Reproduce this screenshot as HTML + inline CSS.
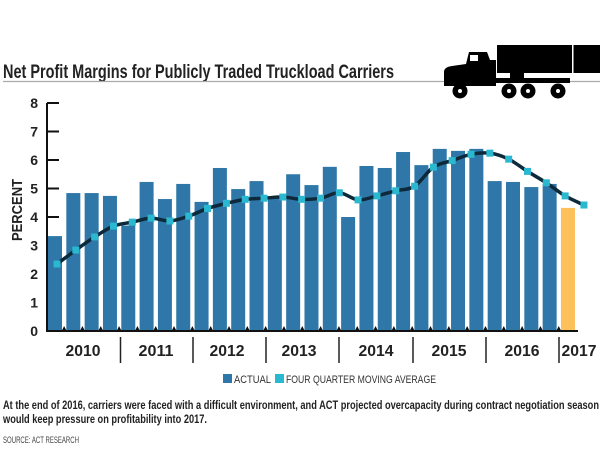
<!DOCTYPE html>
<html><head><style>
html,body{margin:0;padding:0;background:#fff;}
svg{display:block;}
text{font-family:"Liberation Sans",sans-serif;}
</style></head><body>
<svg width="600" height="450" viewBox="0 0 600 450" xmlns="http://www.w3.org/2000/svg">
<rect width="600" height="450" fill="#fff"/>
<!-- title -->
<text x="3" y="78" font-size="19" font-weight="bold" fill="#222" textLength="391" lengthAdjust="spacingAndGlyphs">Net Profit Margins for Publicly Traded Truckload Carriers</text>
<line x1="3" y1="81.5" x2="600" y2="81.5" stroke="#aaa" stroke-width="1.2"/>
<!-- truck -->
<g fill="#000">
<rect x="497" y="45" width="103" height="28"/>
<rect x="572" y="45" width="1.5" height="28" fill="#fff"/>
<path d="M469,52 L487,52 L490,60 L496,60 L496,86 L444,86 L444,72 Q444,67 452,66 L466,64 Z"/>
<rect x="470" y="55" width="8" height="6" fill="#fff"/>
<rect x="495" y="78" width="75" height="5"/>
<rect x="510" y="73" width="14" height="5"/>
<circle cx="460" cy="91" r="7.5"/>
<circle cx="509" cy="91" r="7.5"/>
<circle cx="528" cy="91" r="7.5"/>
<circle cx="558" cy="91" r="7.5"/>
<circle cx="460" cy="91" r="2" fill="#fff"/>
<circle cx="509" cy="91" r="2" fill="#fff"/>
<circle cx="528" cy="91" r="2" fill="#fff"/>
<circle cx="558" cy="91" r="2" fill="#fff"/>
</g>
<!-- y label -->
<text transform="translate(22,210) rotate(-90)" font-size="15" font-weight="bold" fill="#222" text-anchor="middle" textLength="62" lengthAdjust="spacingAndGlyphs">PERCENT</text>
<!-- y ticks -->
<g font-size="14" font-weight="bold" fill="#222" text-anchor="end">
<text x="38" y="336">0</text><text x="38" y="307.5">1</text><text x="38" y="279">2</text><text x="38" y="250.5">3</text><text x="38" y="222">4</text><text x="38" y="193.5">5</text><text x="38" y="165">6</text><text x="38" y="136.5">7</text><text x="38" y="108">8</text>
</g>
<g stroke="#111" stroke-width="2">
<line x1="47" y1="103" x2="47" y2="332"/>
<line x1="47" y1="103" x2="59" y2="103"/><line x1="47" y1="131.5" x2="59" y2="131.5"/><line x1="47" y1="160" x2="59" y2="160"/><line x1="47" y1="188.5" x2="59" y2="188.5"/><line x1="47" y1="217" x2="59" y2="217"/><line x1="47" y1="245.5" x2="59" y2="245.5"/><line x1="47" y1="274" x2="59" y2="274"/><line x1="47" y1="302.5" x2="59" y2="302.5"/>
</g>
<g id="bars"></g>
<line x1="46" y1="331" x2="578" y2="331" stroke="#111" stroke-width="2"/>
<g id="small"></g>
<!-- year separators -->
<g stroke="#222" stroke-width="1.5">
<line x1="120.5" y1="337" x2="120.5" y2="363"/><line x1="193" y1="337" x2="193" y2="363"/><line x1="266" y1="337" x2="266" y2="363"/><line x1="339" y1="337" x2="339" y2="363"/><line x1="413" y1="337" x2="413" y2="363"/><line x1="486" y1="337" x2="486" y2="363"/><line x1="559" y1="337" x2="559" y2="363"/>
</g>
<g font-size="16" font-weight="bold" fill="#222" text-anchor="middle">
<text x="83" y="356" textLength="35" lengthAdjust="spacingAndGlyphs">2010</text>
<text x="156" y="356" textLength="35" lengthAdjust="spacingAndGlyphs">2011</text>
<text x="227" y="356" textLength="35" lengthAdjust="spacingAndGlyphs">2012</text>
<text x="299" y="356" textLength="35" lengthAdjust="spacingAndGlyphs">2013</text>
<text x="376" y="356" textLength="35" lengthAdjust="spacingAndGlyphs">2014</text>
<text x="449" y="356" textLength="35" lengthAdjust="spacingAndGlyphs">2015</text>
<text x="522" y="356" textLength="35" lengthAdjust="spacingAndGlyphs">2016</text>
<text x="579" y="356" textLength="35" lengthAdjust="spacingAndGlyphs">2017</text>
</g>
<g id="ma"></g>
<!-- legend -->
<rect x="223" y="374" width="9" height="9" fill="#2e77a8"/>
<text x="234" y="383" font-size="11" fill="#333" textLength="37" lengthAdjust="spacingAndGlyphs">ACTUAL</text>
<rect x="275" y="374" width="9" height="9" fill="#2ab8d0"/>
<text x="286" y="383" font-size="11" fill="#333" textLength="150" lengthAdjust="spacingAndGlyphs">FOUR QUARTER MOVING AVERAGE</text>
<!-- caption -->
<text x="3" y="409" font-size="12" font-weight="bold" fill="#222" textLength="596" lengthAdjust="spacingAndGlyphs">At the end of 2016, carriers were faced with a difficult environment, and ACT projected overcapacity during contract negotiation season</text>
<text x="3" y="423" font-size="12" font-weight="bold" fill="#222" textLength="204" lengthAdjust="spacingAndGlyphs">would keep pressure on profitability into 2017.</text>
<text x="3" y="443" font-size="9" fill="#444" textLength="76" lengthAdjust="spacingAndGlyphs">SOURCE: ACT RESEARCH</text>
</svg>
<script>
var NS="http://www.w3.org/2000/svg";
function el(t,a,p){var e=document.createElementNS(NS,t);for(var k in a)e.setAttribute(k,a[k]);document.getElementById(p).appendChild(e);return e;}
var bars=[3.33,4.84,4.84,4.74,3.7,5.23,4.63,5.16,4.53,5.72,4.98,5.26,4.7,5.5,5.12,5.76,4.0,5.79,5.72,6.28,5.82,6.39,6.32,6.39,5.26,5.23,5.05,5.16,4.32];
var Y=function(v){return 331-v*28.5;};
bars.forEach(function(v,i){
 var x=48+18.32*i;
 el('rect',{x:x,y:Y(v),width:14,height:331-Y(v),fill:i==28?'#fcc15a':'#2e77a8'},'bars');
 if(i>0) el('path',{d:'M'+(x-2.2-2.5)+',331 L'+(x-2.2)+',326 L'+(x-2.2+2.5)+',331 Z',fill:'#111'},'small');
});
var ma=[2.35,2.84,3.3,3.68,3.82,3.96,3.86,4.03,4.3,4.48,4.62,4.66,4.7,4.62,4.66,4.85,4.6,4.74,4.92,5.08,5.75,5.98,6.2,6.24,6.03,5.6,5.2,4.74,4.42];
var pts=ma.map(function(v,i){return [57+18.82*i,Y(v)];});
var d='M'+pts[0][0]+','+pts[0][1];
for(var i=1;i<pts.length;i++){
 var p0=pts[i-2]||pts[i-1],p1=pts[i-1],p2=pts[i],p3=pts[i+1]||pts[i];
 d+=' C'+(p1[0]+(p2[0]-p0[0])/6)+','+(p1[1]+(p2[1]-p0[1])/6)+' '+(p2[0]-(p3[0]-p1[0])/6)+','+(p2[1]-(p3[1]-p1[1])/6)+' '+p2[0]+','+p2[1];
}
el('path',{d:d,fill:'none',stroke:'#0e2a3a','stroke-width':3.5},'ma');
pts.forEach(function(p){el('rect',{x:p[0]-3.5,y:p[1]-3.5,width:7,height:7,fill:'#2ab8d0'},'ma');});
</script>
</body></html>
